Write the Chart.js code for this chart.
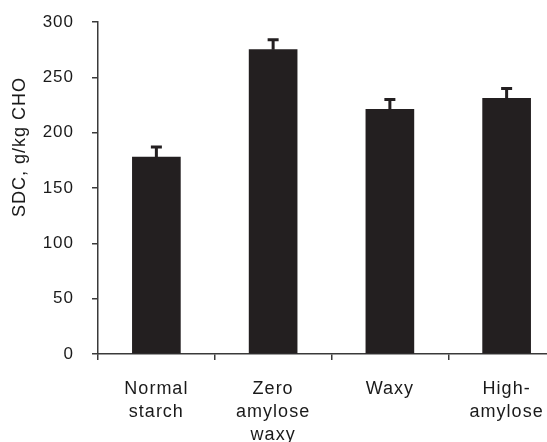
<!DOCTYPE html>
<html>
<head>
<meta charset="utf-8">
<script src="https://cdn.jsdelivr.net/npm/chart.js@4/dist/chart.umd.min.js"></script>
<style>
  html, body { margin:0; padding:0; background:#fff; overflow:hidden; }
  #wrap { width:565px; height:442px; }
</style>
</head>
<body>
<div id="wrap"><canvas id="sdcChart" width="565" height="442"></canvas></div>
<script>
/* =========================================
   SDC BY STARCH TYPE
   -----------------------------------------
   Bar chart with upper error bars
========================================= */

const categories = [["Normal", "starch"], ["Zero", "amylose", "waxy"], ["Waxy"], ["High-", "amylose"]];
const sdcValues  = [178, 275, 221, 231];
const sdcErrors  = [9, 9, 9, 9];
const yTicks     = [0, 50, 100, 150, 200, 250, 300];
const yTitle     = "SDC, g/kg CHO";

const INK  = "#231f20";
const AXIS = "#3a3a3a";
const TEXT = "#1a1a1a";
const FONT = "'Liberation Sans', Arial, sans-serif";

/* -------------------------------------
   ERROR BARS (upper only)
------------------------------------- */
const errorBars = {
    id: "errorBars",
    afterDatasetsDraw(chart) {
        const ctx = chart.ctx;
        const y = chart.scales.y;
        chart.getDatasetMeta(0).data.forEach((bar, i) => {
            const top = y.getPixelForValue(sdcValues[i] + sdcErrors[i]);
            ctx.save();
            ctx.strokeStyle = INK;
            ctx.lineWidth = 3;
            ctx.beginPath();
            ctx.moveTo(bar.x, bar.y);
            ctx.lineTo(bar.x, top);
            ctx.moveTo(bar.x - 5.5, top);
            ctx.lineTo(bar.x + 5.5, top);
            ctx.stroke();
            ctx.restore();
        });
    }
};

/* -------------------------------------
   WIDER TEXT + Y AXIS TITLE
   (title sits above the axis centre)
------------------------------------- */
const textPlugin = {
    id: "textPlugin",
    beforeDraw(chart) {
        chart.ctx.letterSpacing = "1px";
    },
    afterDraw(chart) {
        const ctx = chart.ctx;
        ctx.save();
        ctx.letterSpacing = "1px";
        ctx.translate(20, 147);
        ctx.rotate(-Math.PI / 2);
        ctx.font = "18px " + FONT;
        ctx.fillStyle = TEXT;
        ctx.textAlign = "center";
        ctx.textBaseline = "middle";
        ctx.fillText(yTitle, 0, 0);
        ctx.restore();
    }
};

new Chart(document.getElementById("sdcChart"), {
    type: "bar",
    data: {
        labels: categories,
        datasets: [{
            data: sdcValues,
            backgroundColor: INK,
            borderWidth: 0,
            barThickness: 48
        }]
    },
    options: {
        responsive: false,
        animation: false,
        layout: { padding: { top: 22, right: 0, left: 0, bottom: 0 } },
        plugins: { legend: { display: false }, tooltip: { enabled: false } },
        scales: {
            x: {
                grid: { drawOnChartArea: false, color: AXIS, tickLength: 6, lineWidth: 1.5 },
                border: { color: AXIS, width: 1.5 },
                ticks: {
                    color: TEXT,
                    font: { family: FONT, size: 18, lineHeight: 1.3 },
                    padding: 17,
                    maxRotation: 0
                },
                afterFit(scale) { scale.height = 88; scale.paddingLeft = 0; scale.paddingRight = 0; }
            },
            y: {
                min: 0,
                max: 300,
                afterBuildTicks(scale) { scale.ticks = yTicks.map(v => ({ value: v })); },
                grid: { drawOnChartArea: false, color: AXIS, tickLength: 6, lineWidth: 1.5 },
                border: { color: AXIS, width: 1.5 },
                ticks: {
                    color: TEXT,
                    font: { family: FONT, size: 17 },
                    padding: 18
                },
                afterFit(scale) { scale.width = 98; scale.paddingTop = 0; scale.paddingBottom = 0; }
            }
        }
    },
    plugins: [errorBars, textPlugin]
});
</script>
</body>
</html>
